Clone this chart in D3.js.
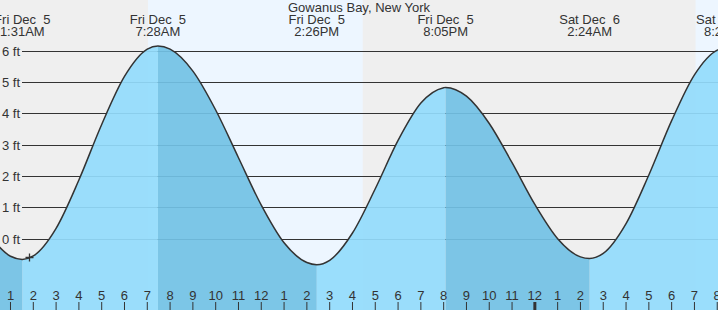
<!DOCTYPE html>
<html><head><meta charset="utf-8">
<script src="https://cdn.jsdelivr.net/npm/d3@7"></script>
<style>
body{margin:0;background:#fff;}
svg{display:block;font-family:"Liberation Sans",Arial,sans-serif;}
text{white-space:pre;}
</style>
</head><body>
<svg id="chart" width="718" height="310"></svg>
<script>
const title = "Gowanus Bay, New York";

// tide series (time, height ft)
const seriesTimes = [
  "2025-12-05 00:00","2025-12-05 01:00","2025-12-05 01:31","2025-12-05 02:00","2025-12-05 03:00",
  "2025-12-05 04:00","2025-12-05 05:00","2025-12-05 06:00","2025-12-05 07:00","2025-12-05 07:28",
  "2025-12-05 08:00","2025-12-05 09:00","2025-12-05 10:00","2025-12-05 11:00","2025-12-05 12:00",
  "2025-12-05 13:00","2025-12-05 14:00","2025-12-05 14:26","2025-12-05 15:00","2025-12-05 16:00",
  "2025-12-05 17:00","2025-12-05 18:00","2025-12-05 19:00","2025-12-05 20:00","2025-12-05 20:05",
  "2025-12-05 21:00","2025-12-05 22:00","2025-12-05 23:00","2025-12-06 00:00","2025-12-06 01:00",
  "2025-12-06 02:00","2025-12-06 02:24","2025-12-06 03:00","2025-12-06 04:00","2025-12-06 05:00",
  "2025-12-06 06:00","2025-12-06 07:00","2025-12-06 08:00","2025-12-06 08:24"
];
const seriesHeights = [
  0.18,-0.54,-0.64,-0.53,0.35,
  1.89,3.66,5.19,6.06,6.16,
  6.06,5.36,4.12,2.60,1.09,
  -0.11,-0.74,-0.81,-0.67,0.20,
  1.61,3.15,4.34,4.83,4.84,
  4.56,3.69,2.44,1.11,0.02,
  -0.56,-0.61,-0.45,0.50,2.05,
  3.78,5.24,6.03,6.10
];

// high / low events
const extremeTimes = ["2025-12-05 01:31","2025-12-05 07:28","2025-12-05 14:26","2025-12-05 20:05","2025-12-06 02:24","2025-12-06 08:24"];
const extremeHeights = [-0.64, 6.16, -0.81, 4.84, -0.61, 6.10];
const extremeDayLabels = ["Fri Dec  5","Fri Dec  5","Fri Dec  5","Fri Dec  5","Sat Dec  6","Sat Dec  6"];
const extremeTimeLabels = ["1:31AM","7:28AM","2:26PM","8:05PM","2:24AM","8:24AM"];

// daylight intervals
const sunriseTimes = ["2025-12-05 07:02","2025-12-06 07:03"];
const sunsetTimes  = ["2025-12-05 16:27","2025-12-06 16:28"];

const feetTicks = [0,1,2,3,4,5,6];
const nowTime = "2025-12-05 01:50";
const nowHeight = -0.58;

const parse = d3.timeParse("%Y-%m-%d %H:%M");
const W = 718, H = 310;
const svg = d3.select("#chart");

const x = d3.scaleTime()
  .domain([new Date(2025,11,5,0,32,22), new Date(2025,11,6,8,2,0)])
  .range([0, W]);
const y = d3.scaleLinear().domain([0,6]).range([239.3, 51]);

const data = seriesTimes.map((t,i)=>({t:parse(t), h:seriesHeights[i]}));
const ext = extremeTimes.map((t,i)=>({t:parse(t), h:extremeHeights[i], d:extremeDayLabels[i], l:extremeTimeLabels[i]}));

// background night / day
svg.append("rect").attr("x",0).attr("y",0).attr("width",W).attr("height",H).attr("fill","#efefef");
svg.selectAll("rect.day").data(sunriseTimes).enter().append("rect")
  .attr("class","day")
  .attr("x", (d)=>x(parse(d)))
  .attr("y",0)
  .attr("width",(d,i)=>Math.max(0, Math.min(W, x(parse(sunsetTimes[i]))) - x(parse(d))))
  .attr("height",H)
  .attr("fill","#edf6ff");

// grid lines
svg.selectAll("line.grid").data(feetTicks).enter().append("line")
  .attr("x1",22).attr("x2",W)
  .attr("y1",d=>y(d)).attr("y2",d=>y(d))
  .attr("stroke","#333").attr("stroke-width",1).attr("shape-rendering","crispEdges");

// y labels
svg.selectAll("text.yl").data(feetTicks).enter().append("text")
  .attr("x",20).attr("y",d=>y(d)+4.5)
  .attr("text-anchor","end").attr("font-size",13).attr("fill","#333")
  .text(d=>d+" ft");

// area: rising light, falling dark
const area = d3.area().x(d=>x(d.t)).y0(H).y1(d=>y(d.h)).curve(d3.curveMonotoneX);
const defs = svg.append("defs");
// build falling intervals
const bounds = [x.domain()[0], ...ext.map(e=>e.t), x.domain()[1]];
const intervals = [];
for (let i=0;i<bounds.length-1;i++){
  let falling;
  if (i===0) falling = ext[0].h < ext[1].h;
  else if (i < ext.length) falling = ext[i].h < ext[i-1].h;
  else falling = ext[ext.length-1].h < ext[ext.length-2].h;
  intervals.push({a:bounds[i], b:bounds[i+1], falling});
}
const clipFall = defs.append("clipPath").attr("id","fall");
const clipRise = defs.append("clipPath").attr("id","rise");
intervals.forEach(iv=>{
  (iv.falling?clipFall:clipRise).append("rect")
    .attr("x",x(iv.a)).attr("y",0).attr("width",Math.max(0,x(iv.b)-x(iv.a))).attr("height",H);
});
svg.append("path").datum(data).attr("d",area).attr("fill","#92dbfc").attr("fill-opacity",0.92).attr("clip-path","url(#rise)");
svg.append("path").datum(data).attr("d",area).attr("fill","#72c1e5").attr("fill-opacity",0.92).attr("clip-path","url(#fall)");

// curve line
const line = d3.line().x(d=>x(d.t)).y(d=>y(d.h)).curve(d3.curveMonotoneX);
svg.append("path").datum(data).attr("d",line).attr("fill","none").attr("stroke","#333").attr("stroke-width",1.5);

// now marker
const nx = x(parse(nowTime)), ny = y(nowHeight);
svg.append("path").attr("d",`M${nx-4},${ny}H${nx+4}M${nx},${ny-4}V${ny+4}`)
  .attr("stroke","#333").attr("stroke-width",1.3).attr("fill","none");

// hour axis
const hours = d3.timeHour.range(d3.timeHour.ceil(x.domain()[0]), x.domain()[1]);
svg.selectAll("line.ht").data(hours).enter().append("line")
  .attr("x1",d=>x(d)).attr("x2",d=>x(d))
  .attr("y1",302).attr("y2",H)
  .attr("stroke","#333").attr("stroke-width",d=>d.getHours()===0?3:1);
svg.selectAll("text.hl").data(hours).enter().append("text")
  .attr("x",d=>x(d)).attr("y",300)
  .attr("text-anchor","middle").attr("font-size",13).attr("fill","#333")
  .text(d3.timeFormat("%-I"));

// extreme labels
const el = svg.selectAll("g.ev").data(ext).enter().append("g");
el.append("text").attr("x",d=>x(d.t)).attr("y",23.5).attr("text-anchor","middle")
  .attr("font-size",13).attr("fill","#333").text(d=>d.d);
el.append("text").attr("x",d=>x(d.t)).attr("y",36).attr("text-anchor","middle")
  .attr("font-size",13).attr("fill","#333").text(d=>d.l);

// title
svg.append("text").attr("x",359).attr("y",11.5).attr("text-anchor","middle")
  .attr("font-size",13).attr("fill","#333").text(title);
</script>
</body></html>
